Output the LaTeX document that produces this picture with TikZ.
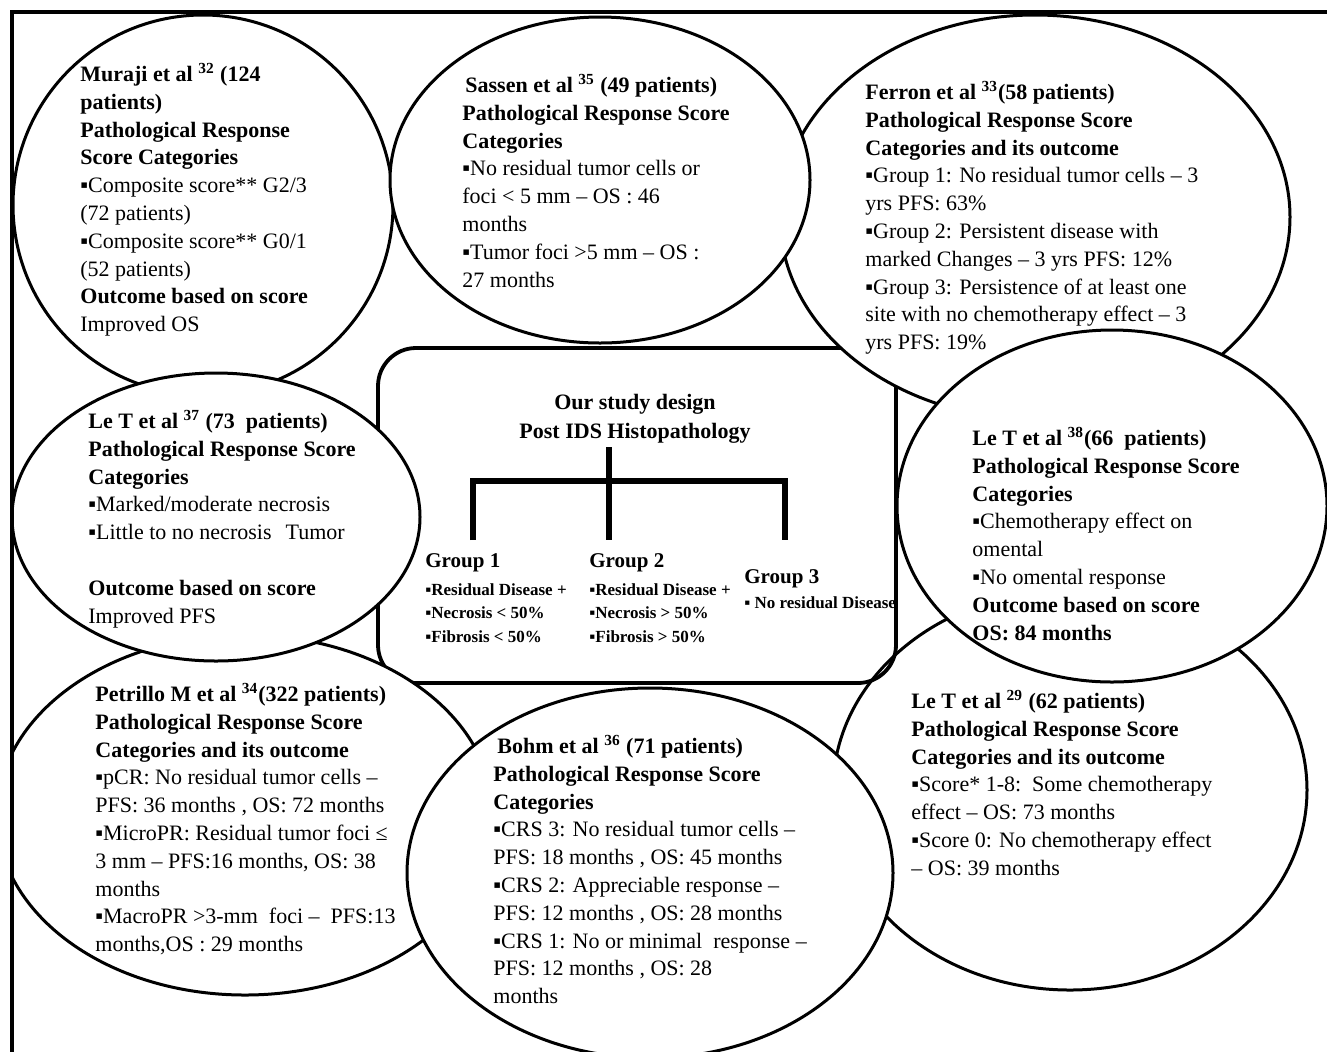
\documentclass[tikz,border=0pt]{standalone}
\usepackage{fontspec}
\setmainfont{Liberation Serif}
\usetikzlibrary{shapes.geometric}
\newcommand{\mystrut}{\rule{0pt}{9.5pt}}
\newcommand{\smstrut}{\rule{0pt}{7.5pt}}
\begin{document}
\begin{tikzpicture}[x=0.5pt,y=-0.5pt,
  bubble/.style={ellipse, draw=black, fill=white, line width=1.5pt, inner sep=0pt},
  studybox/.style={rectangle, rounded corners=19pt, draw=black, line width=1.9pt, inner sep=0pt},
  body/.style={anchor=north west, align=left, inner sep=0pt, font=\fontsize{11}{13.9}\selectfont},
  heading/.style={anchor=north, align=center, inner sep=0pt, font=\bfseries\fontsize{11}{14.5}\selectfont},
  grouptitle/.style={anchor=base west, inner sep=0pt, font=\bfseries\fontsize{10.5}{12}\selectfont},
  groupitems/.style={anchor=north west, align=left, inner sep=0pt, font=\bfseries\fontsize{8.5}{11.75}\selectfont},
  tree/.style={line width=2.6pt},
  frameline/.style={line width=1.6pt}]

\useasboundingbox (0,0) rectangle (1327,1051);
\clip (0,0) rectangle (1327,1051);
\fill[white] (0,0) rectangle (1327,1051);

% shapes, back to front
\node[bubble, minimum width=237pt, minimum height=200pt] (leT29) at (1070,790) {};
\node[studybox, minimum width=259pt, minimum height=167.5pt] (study) at (637,515.5) {};
\node[bubble, minimum width=190pt, minimum height=190pt] (muraji) at (203,205) {};
\node[bubble, minimum width=255pt, minimum height=202pt] (ferron) at (1035,217) {};
\node[bubble, minimum width=210pt, minimum height=163pt] (sassen) at (600,180) {};
\node[bubble, minimum width=215pt, minimum height=176pt] (leT38) at (1112,506) {};
\node[bubble, minimum width=248pt, minimum height=180pt] (petrillo) at (245,815) {};
\node[bubble, minimum width=204pt, minimum height=144pt] (leT37) at (216,517) {};
\node[bubble, minimum width=243pt, minimum height=185pt] (bohm) at (650,873) {};

% outer frame (masks anything outside it)
\fill[white] (0,0) rectangle (12,1051);
\fill[white] (0,0) rectangle (1327,12);
\draw[frameline] (12,1060) -- (12,12) -- (1340,12);

% texts
\node[body] (tMuraji) at (80,62) {\mystrut\textbf{Muraji et al \textsuperscript{32} (124}\\
\textbf{patients)}\\
\textbf{Pathological Response}\\
\textbf{Score Categories}\\
▪Composite score** G2/3\\
(72 patients)\\
▪Composite score** G0/1\\
(52 patients)\\
\textbf{Outcome based on score}\\
Improved OS};

\node[body] (tSassen) at (462,73) {\mystrut\hspace{1.5pt}\textbf{Sassen et al \textsuperscript{35} (49 patients)}\\
\textbf{Pathological Response Score}\\
\textbf{Categories}\\
▪No residual tumor cells or\\
foci < 5 mm -- OS : 46\\
months\\
▪Tumor foci >5 mm -- OS :\\
27 months};

\node[body] (tFerron) at (865,80) {\mystrut\textbf{Ferron et al \textsuperscript{33}(58 patients)}\\
\textbf{Pathological Response Score}\\
\textbf{Categories and its outcome}\\
▪Group 1: No residual tumor cells -- 3\\
yrs PFS: 63\%\\
▪Group 2: Persistent disease with\\
marked Changes -- 3 yrs PFS: 12\%\\
▪Group 3: Persistence of at least one\\
site with no chemotherapy effect -- 3\\
yrs PFS: 19\%};

\node[body] (tLeT37) at (88,409) {\mystrut\textbf{Le T et al \textsuperscript{37} (73\ \ patients)}\\
\textbf{Pathological Response Score}\\
\textbf{Categories}\\
▪Marked/moderate necrosis\\
▪Little to no necrosis\hspace{7pt}Tumor\\[13.9pt]
\textbf{Outcome based on score}\\
Improved PFS};

\node[body] (tLeT38) at (972,426) {\mystrut\textbf{Le T et al \textsuperscript{38}(66\ \ patients)}\\
\textbf{Pathological Response Score}\\
\textbf{Categories}\\
▪Chemotherapy effect on\\
omental\\
▪No omental response\\
\textbf{Outcome based on score}\\
\textbf{OS: 84 months}};

\node[body] (tPetrillo) at (95,682) {\mystrut\textbf{Petrillo M et al \textsuperscript{34}(322 patients)}\\
\textbf{Pathological Response Score}\\
\textbf{Categories and its outcome}\\
▪pCR: No residual tumor cells --\\
PFS: 36 months , OS: 72 months\\
▪MicroPR: Residual tumor foci ≤\\
3 mm -- PFS:16 months, OS: 38\\
months\\
▪MacroPR >3-mm\ \ foci --\ \ PFS:13\\
months,OS : 29 months};

\node[body] (tBohm) at (493,734) {\mystrut\hspace{2pt}\textbf{Bohm et al \textsuperscript{36} (71 patients)}\\
\textbf{Pathological Response Score}\\
\textbf{Categories}\\
▪CRS 3: No residual tumor cells --\\
PFS: 18 months , OS: 45 months\\
▪CRS 2: Appreciable response --\\
PFS: 12 months , OS: 28 months\\
▪CRS 1: No or minimal\ \ response --\\
PFS: 12 months , OS: 28\\
months};

\node[body] (tLeT29) at (911,689) {\mystrut\textbf{Le T et al \textsuperscript{29} (62 patients)}\\
\textbf{Pathological Response Score}\\
\textbf{Categories and its outcome}\\
▪Score* 1-8:\ \ Some chemotherapy\\
effect -- OS: 73 months\\
▪Score 0: No chemotherapy effect\\
-- OS: 39 months};

% study design
\node[heading] (design) at (635,390) {\mystrut Our study design\\Post IDS Histopathology};
\coordinate (stem) at (609,447);
\coordinate (jl) at (473,481);
\coordinate (jr) at (785,481);
\coordinate (e1) at (473,540);
\coordinate (e2) at (609,540);
\coordinate (e3) at (785,540);
\draw[tree] (stem) -- (e2);
\draw[tree] (e1) -- (jl) -- (jr) -- (e3);

\node[grouptitle] (g1) at (425,567) {Group 1};
\node[groupitems] (g1items) at (425,580) {\smstrut▪Residual Disease +\\▪Necrosis < 50\%\\▪Fibrosis < 50\%};
\node[grouptitle] (g2) at (589,567) {Group 2};
\node[groupitems] (g2items) at (589,580) {\smstrut▪Residual Disease +\\▪Necrosis > 50\%\\▪Fibrosis > 50\%};
\node[grouptitle] (g3) at (744,583) {Group 3};
\node[groupitems] (g3items) at (744,593) {\smstrut▪ No residual Disease};
\end{tikzpicture}
\end{document}
